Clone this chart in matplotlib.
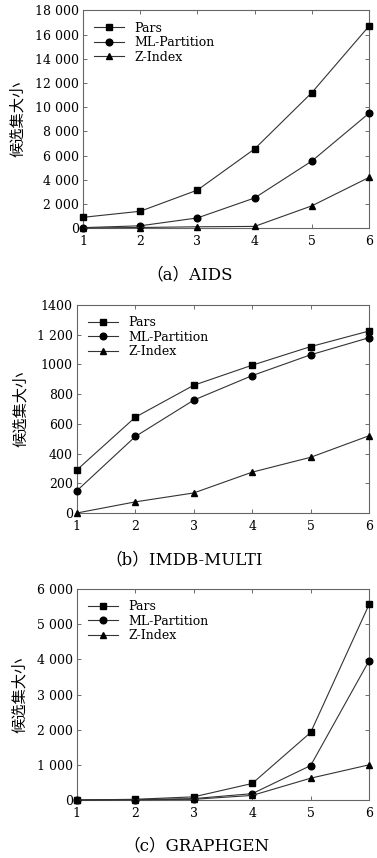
import matplotlib
matplotlib.use("Agg")
import matplotlib.pyplot as plt

x = [1, 2, 3, 4, 5, 6]
series_names = ["Pars", "ML-Partition", "Z-Index"]

aids_pars = [900, 1400, 3150, 6550, 11200, 16700]
aids_ml = [50, 200, 850, 2500, 5550, 9500]
aids_z = [20, 60, 120, 150, 1850, 4200]

imdb_pars = [290, 645, 860, 995, 1120, 1225]
imdb_ml = [150, 515, 760, 925, 1065, 1180]
imdb_z = [0, 75, 135, 275, 375, 520]

gg_pars = [0, 20, 90, 470, 1920, 5560]
gg_ml = [0, 10, 40, 180, 980, 3960]
gg_z = [0, 5, 20, 130, 620, 1000]

aids_ticks = [0, 2000, 4000, 6000, 8000, 10000, 12000, 14000, 16000, 18000]
aids_labels = ["0", "2 000", "4 000", "6 000", "8 000", "10 000", "12 000", "14 000", "16 000", "18 000"]
imdb_ticks = [0, 200, 400, 600, 800, 1000, 1200, 1400]
imdb_labels = ["0", "200", "400", "600", "800", "1000", "1 200", "1400"]
gg_ticks = [0, 1000, 2000, 3000, 4000, 5000, 6000]
gg_labels = ["0", "1 000", "2 000", "3 000", "4 000", "5 000", "6 000"]

captions = ["（a）AIDS", "（b）IMDB-MULTI", "（c）GRAPHGEN"]
ylabel = "候选集大小"

serif = ["DejaVu Serif", "Noto Sans CJK SC"]

fig = plt.figure(figsize=(3.77, 8.58), dpi=100)

panels = [
    ([0.220, 0.734, 0.759, 0.254], (aids_pars, aids_ml, aids_z), aids_ticks, aids_labels, 18000, 190, 275),
    ([0.204, 0.4021, 0.775, 0.2424], (imdb_pars, imdb_ml, imdb_z), imdb_ticks, imdb_labels, 1400, 184, 560),
    ([0.204, 0.0676, 0.775, 0.2459], (gg_pars, gg_ml, gg_z), gg_ticks, gg_labels, 6000, 196, 846),
]
markers = ["s", "o", "^"]
msizes = [4.8, 4.8, 4.8]

for (rect, data, ticks, labels, ymax, cap_x, cap_y), cap in zip(panels, captions):
    ax = fig.add_axes(rect)
    for vals, name, m, ms in zip(data, series_names, markers, msizes):
        ax.plot(x, vals, color="#333333", lw=0.8, marker=m, ms=ms,
                mfc="black", mec="black", label=name, clip_on=False, zorder=3)
    ax.set_xlim(1, 6)
    ax.set_ylim(0, ymax)
    ax.set_xticks(x)
    ax.set_xticklabels([str(v) for v in x], family=serif, fontsize=9)
    ax.set_yticks(ticks)
    ax.set_yticklabels(labels, family=serif, fontsize=9)
    ax.tick_params(direction="in", top=True, right=True, length=3, width=0.6,
                   color="#555555")
    ax.tick_params(axis="x", pad=5)
    ax.tick_params(axis="y", pad=3)
    for s in ax.spines.values():
        s.set_color("#666666")
        s.set_linewidth(0.8)
    ax.set_ylabel(ylabel, family=["Noto Sans CJK SC"], fontsize=11, labelpad=6)
    ax.legend(loc="upper left", frameon=False, prop={"family": serif, "size": 9},
              handlelength=2.4, labelspacing=0.12, borderaxespad=0.4,
              borderpad=0.5, handletextpad=0.8)
    fig.text(cap_x / 377, 1 - cap_y / 858, cap, ha="center", va="center",
             family=serif, fontsize=12)

fig.savefig("out.png", dpi=100)
